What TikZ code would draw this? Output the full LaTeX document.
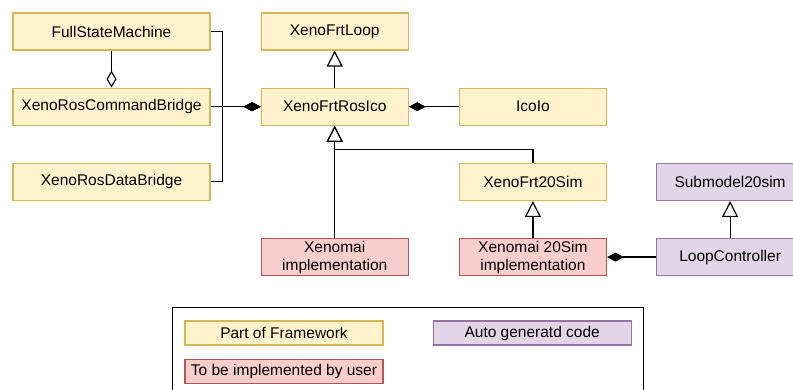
\documentclass[tikz,border=0pt]{standalone}
\usepackage{fontspec}
\setmainfont{Liberation Sans}
\usetikzlibrary{positioning}
\usetikzlibrary{arrows.meta}
\usetikzlibrary{fit}
\definecolor{fwfill}{HTML}{FFF2CC}
\definecolor{fwdraw}{HTML}{D6B656}
\definecolor{userfill}{HTML}{F8CECC}
\definecolor{userdraw}{HTML}{B85450}
\definecolor{genfill}{HTML}{E1D5E7}
\definecolor{gendraw}{HTML}{9673A6}

\begin{document}
\begin{tikzpicture}[x=1pt, y=-1pt,
            node distance = 37pt and 50pt,
            font = \fontsize{15.5}{18}\selectfont,
            cls/.style = {draw,line width=1.2pt,align=center,
                minimum width=147pt,minimum height=37pt,inner sep=1pt},
            fw/.style = {cls,fill=fwfill,draw=fwdraw},
            user/.style = {cls,fill=userfill,draw=userdraw},
            gen/.style = {cls,fill=genfill,draw=gendraw},
            wide/.style = {minimum width=197pt},
            legend/.style = {minimum width=198pt,minimum height=24pt},
            inh/.style = {-{Triangle[open,fill=white,length=16pt,width=16pt]},line width=1.2pt},
            comp/.style = {-{Diamond[length=17pt,width=9pt]},line width=1.2pt},
            aggr/.style = {-{Diamond[open,fill=white,length=17pt,width=10pt]},line width=1.2pt}]
            \useasboundingbox (0,0) rectangle (793,390);
            \node[fw, wide](fsm) at (111.5,31.5) {FullStateMachine};
            \node[fw, wide, below=of fsm](cbridge) {XenoRosCommandBridge};
            \node[fw, wide, below=of cbridge](dbridge) {XenoRosDataBridge};
            \node[fw, right=of fsm](loop) {XenoFrtLoop};
            \node[fw, below=of loop](rosico) {XenoFrtRosIco};
            \node[fw, right=of rosico](icoio) {IcoIo};
            \node[fw, below=of icoio](frt20) {XenoFrt20Sim};
            \node[user, below=of frt20](impl20) {Xenomai 20Sim\\implementation};
            \node[user](ximpl) at (rosico |- impl20) {Xenomai\\implementation};
            \node[gen, right=49pt of frt20](submodel) {Submodel20sim};
            \node[gen, below=of submodel](loopctl) {LoopController};
            \path[]
                (fsm) edge[aggr] (cbridge)
                (cbridge) edge[comp] (rosico)
                (icoio) edge[comp] (rosico)
                (rosico) edge[inh] (loop)
                (ximpl) edge[inh] (rosico)
                (impl20) edge[inh] (frt20)
                (loopctl) edge[inh] (submodel)
                (loopctl) edge[comp] (impl20);
            \draw[comp] (fsm.east) -- ++(12,0) |- (rosico.west);
            \draw[comp] (dbridge.east) -- ++(12,0) |- (rosico.west);
            \draw[inh] (frt20.north) -- ++(0,-13) -| (rosico.south);
            % legend
            \node[fw, legend](legfw) at (284,333) {Part of Framework};
            \node[user, legend, below=13pt of legfw](leguser) {To be implemented by user};
            \node[gen, legend, right=49pt of legfw](leggen) {Auto generatd code};
            \node[draw, line width=1.2pt, inner xsep=12pt, inner ysep=13pt,
                fit=(legfw)(leguser)(leggen)](legend) {};
        \end{tikzpicture}
\end{document}
